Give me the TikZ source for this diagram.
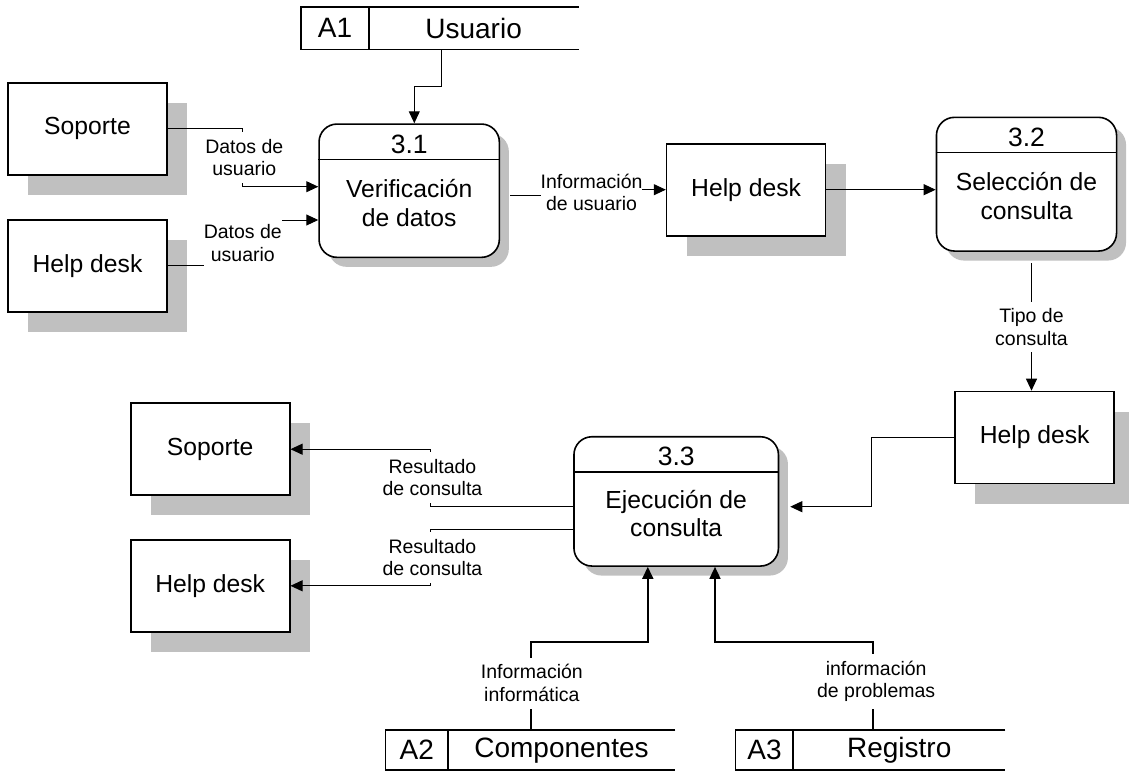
\documentclass[tikz,border=0pt]{standalone}
\usepackage{fontspec}
\setmainfont{Liberation Sans}
\usetikzlibrary{arrows.meta,shadows,calc}
\definecolor{shadowgray}{RGB}{192,192,192}
\newcommand\bigtxt{\fontsize{24.7}{28.4}\selectfont}
\newcommand\numtxt{\fontsize{26.5}{30}\selectfont}
\newcommand\smalltxt{\fontsize{19.5}{22.4}\selectfont}
\newcommand\storetxt{\fontsize{28}{32}\selectfont}
\begin{document}
\begin{tikzpicture}[x=1pt,y=-1pt,
  entity/.style={draw,line width=1.6pt,fill=white,minimum width=159pt,minimum height=92pt,
    inner sep=0pt,font=\bigtxt,
    drop shadow={shadow xshift=20pt,shadow yshift=-20pt,fill=shadowgray,opacity=1}},
  process/.style={draw,line width=1.6pt,fill=white,rounded corners=18pt,inner sep=0pt,
    drop shadow={shadow xshift=9.5pt,shadow yshift=-9.5pt,fill=shadowgray,opacity=1}},
  ptext/.style={font=\bigtxt,align=center,inner sep=0pt},
  pnum/.style={font=\numtxt,inner sep=0pt},
  store/.style={inner sep=0pt},
  storeline/.style={line width=1.6pt},
  stext/.style={font=\storetxt,inner sep=0pt},
  divider/.style={line width=1.2pt},
  flow/.style={draw,line width=1pt,-{Triangle[length=12pt,width=11pt]}},
  heavy/.style={line width=1.7pt},
  lbl/.style={fill=white,font=\smalltxt,align=center,inner xsep=0pt,inner ysep=7pt},
]
\useasboundingbox (0,0) rectangle (1129,771);

% ---------- external entities ----------
\node[entity] (e1) at (87.5,128.7) {Soporte};
\node[entity] (e2) at (87.5,265.8) {Help desk};
\node[entity] (e3) at (746.1,189.7) {Help desk};
\node[entity] (e4) at (1034.7,437.5) {Help desk};
\node[entity] (e5) at (210.2,449.2) {Soporte};
\node[entity] (e6) at (210.2,585.8) {Help desk};

% ---------- processes ----------
\node[process,minimum width=180.3pt,minimum height=133.3pt] (p1) at (409.2,190.7) {};
\draw[divider] ([yshift=-36.3pt]p1.north west) -- ([yshift=-36.3pt]p1.north east);
\node[pnum] (p1n) at ([yshift=-21pt]p1.north) {3.1};
\node[ptext] (p1t) at ([yshift=-79.8pt]p1.north) {Verificación\\de datos};

\node[process,minimum width=180.1pt,minimum height=133.7pt] (p2) at (1026.5,184.2) {};
\draw[divider] ([yshift=-36pt]p2.north west) -- ([yshift=-36pt]p2.north east);
\node[pnum] (p2n) at ([yshift=-21pt]p2.north) {3.2};
\node[ptext] (p2t) at ([yshift=-79.4pt]p2.north) {Selección de\\consulta};

\node[process,minimum width=204.5pt,minimum height=129.3pt] (p3) at (676.2,501.4) {};
\draw[divider] ([yshift=-36pt]p3.north west) -- ([yshift=-36pt]p3.north east);
\node[pnum] (p3n) at ([yshift=-20pt]p3.north) {3.3};
\node[ptext] (p3t) at ([yshift=-77.5pt]p3.north) {Ejecución de\\consulta};

% ---------- data stores ----------
\node[store,minimum width=277.3pt,minimum height=42.3pt] (s1) at (439.7,28.2) {};
\draw[storeline] (s1.north east) -- (s1.north west) -- (s1.south west) -- (s1.south east);
\draw[storeline] ([xshift=68pt]s1.north west) -- ([xshift=68pt]s1.south west);
\node[stext] (s1id) at (335,28.2) {A1};
\node[stext] (s1nm) at (473.6,28.2) {Usuario};

\node[store,minimum width=289.3pt,minimum height=39.5pt] (s2) at (530.4,750.2) {};
\draw[storeline] (s2.north east) -- (s2.north west) -- (s2.south west) -- (s2.south east);
\draw[storeline] ([xshift=62.3pt]s2.north west) -- ([xshift=62.3pt]s2.south west);
\node[stext] (s2id) at (416.8,750.2) {A2};
\node[stext] (s2nm) at (561.5,750.2) {Componentes};

\node[store,minimum width=269.3pt,minimum height=40pt] (s3) at (870.4,750) {};
\draw[storeline] (s3.north east) -- (s3.north west) -- (s3.south west) -- (s3.south east);
\draw[storeline] ([xshift=57.6pt]s3.north west) -- ([xshift=57.6pt]s3.south west);
\node[stext] (s3id) at (764.5,750) {A3};
\node[stext] (s3nm) at (899.2,750) {Registro};

% ---------- data flows ----------
\draw[flow] ([xshift=140.7pt]s1.south west) -- ++(0,36.7) -| ([xshift=5.1pt]p1.north);

\draw[flow] (e1.east) -- ++(74.5,0) |- ([yshift=4pt]p1.west)
  node[lbl,pos=0.25,xshift=2pt] {Datos de\\usuario};
\draw[flow] (e2.east) -- ++(75,0) |- ([yshift=-29.3pt]p1.west)
  node[lbl,pos=0.25] {Datos de\\usuario};

\draw[flow] ([xshift=10pt,yshift=-4.3pt]p1.east) -- ++(81.4,0) |- (e3.west)
  node[lbl,pos=0.25] {Información\\de usuario};

\draw[flow] (e3.east) -- (e3.east -| p2.west);

\coordinate (t1) at ([xshift=5pt,yshift=-11.5pt]p2.south);
\draw[flow] (t1) -- (t1 |- e4.north) node[lbl,midway] {Tipo de\\consulta};

\draw[flow] (e4.west) -- ++(-82.6,0) |- ([xshift=11pt,yshift=-5.3pt]p3.east);

\draw[flow] ([yshift=-4.6pt]p3.west) -- ++(-142.3,0) |- (e5.east)
  node[lbl,pos=0.25,xshift=1.6pt] {Resultado\\de consulta};
\draw[flow] ([yshift=-27.6pt]p3.west) -- ++(-142.3,0) |- (e6.east)
  node[lbl,pos=0.25,xshift=1.6pt] {Resultado\\de consulta};

\draw[flow,heavy] ([xshift=145.1pt]s2.north west) -- ++(0,-88.2)
  node[lbl,pos=0.535,xshift=1.2pt] {Información\\informática} -| ([xshift=-28.4pt]p3.south);
\draw[flow,heavy] ([xshift=137.6pt]s3.north west) -- ++(0,-87.7)
  node[lbl,pos=0.55,xshift=3pt] {información\\de problemas} -| ([xshift=38.8pt]p3.south);
\end{tikzpicture}
\end{document}
